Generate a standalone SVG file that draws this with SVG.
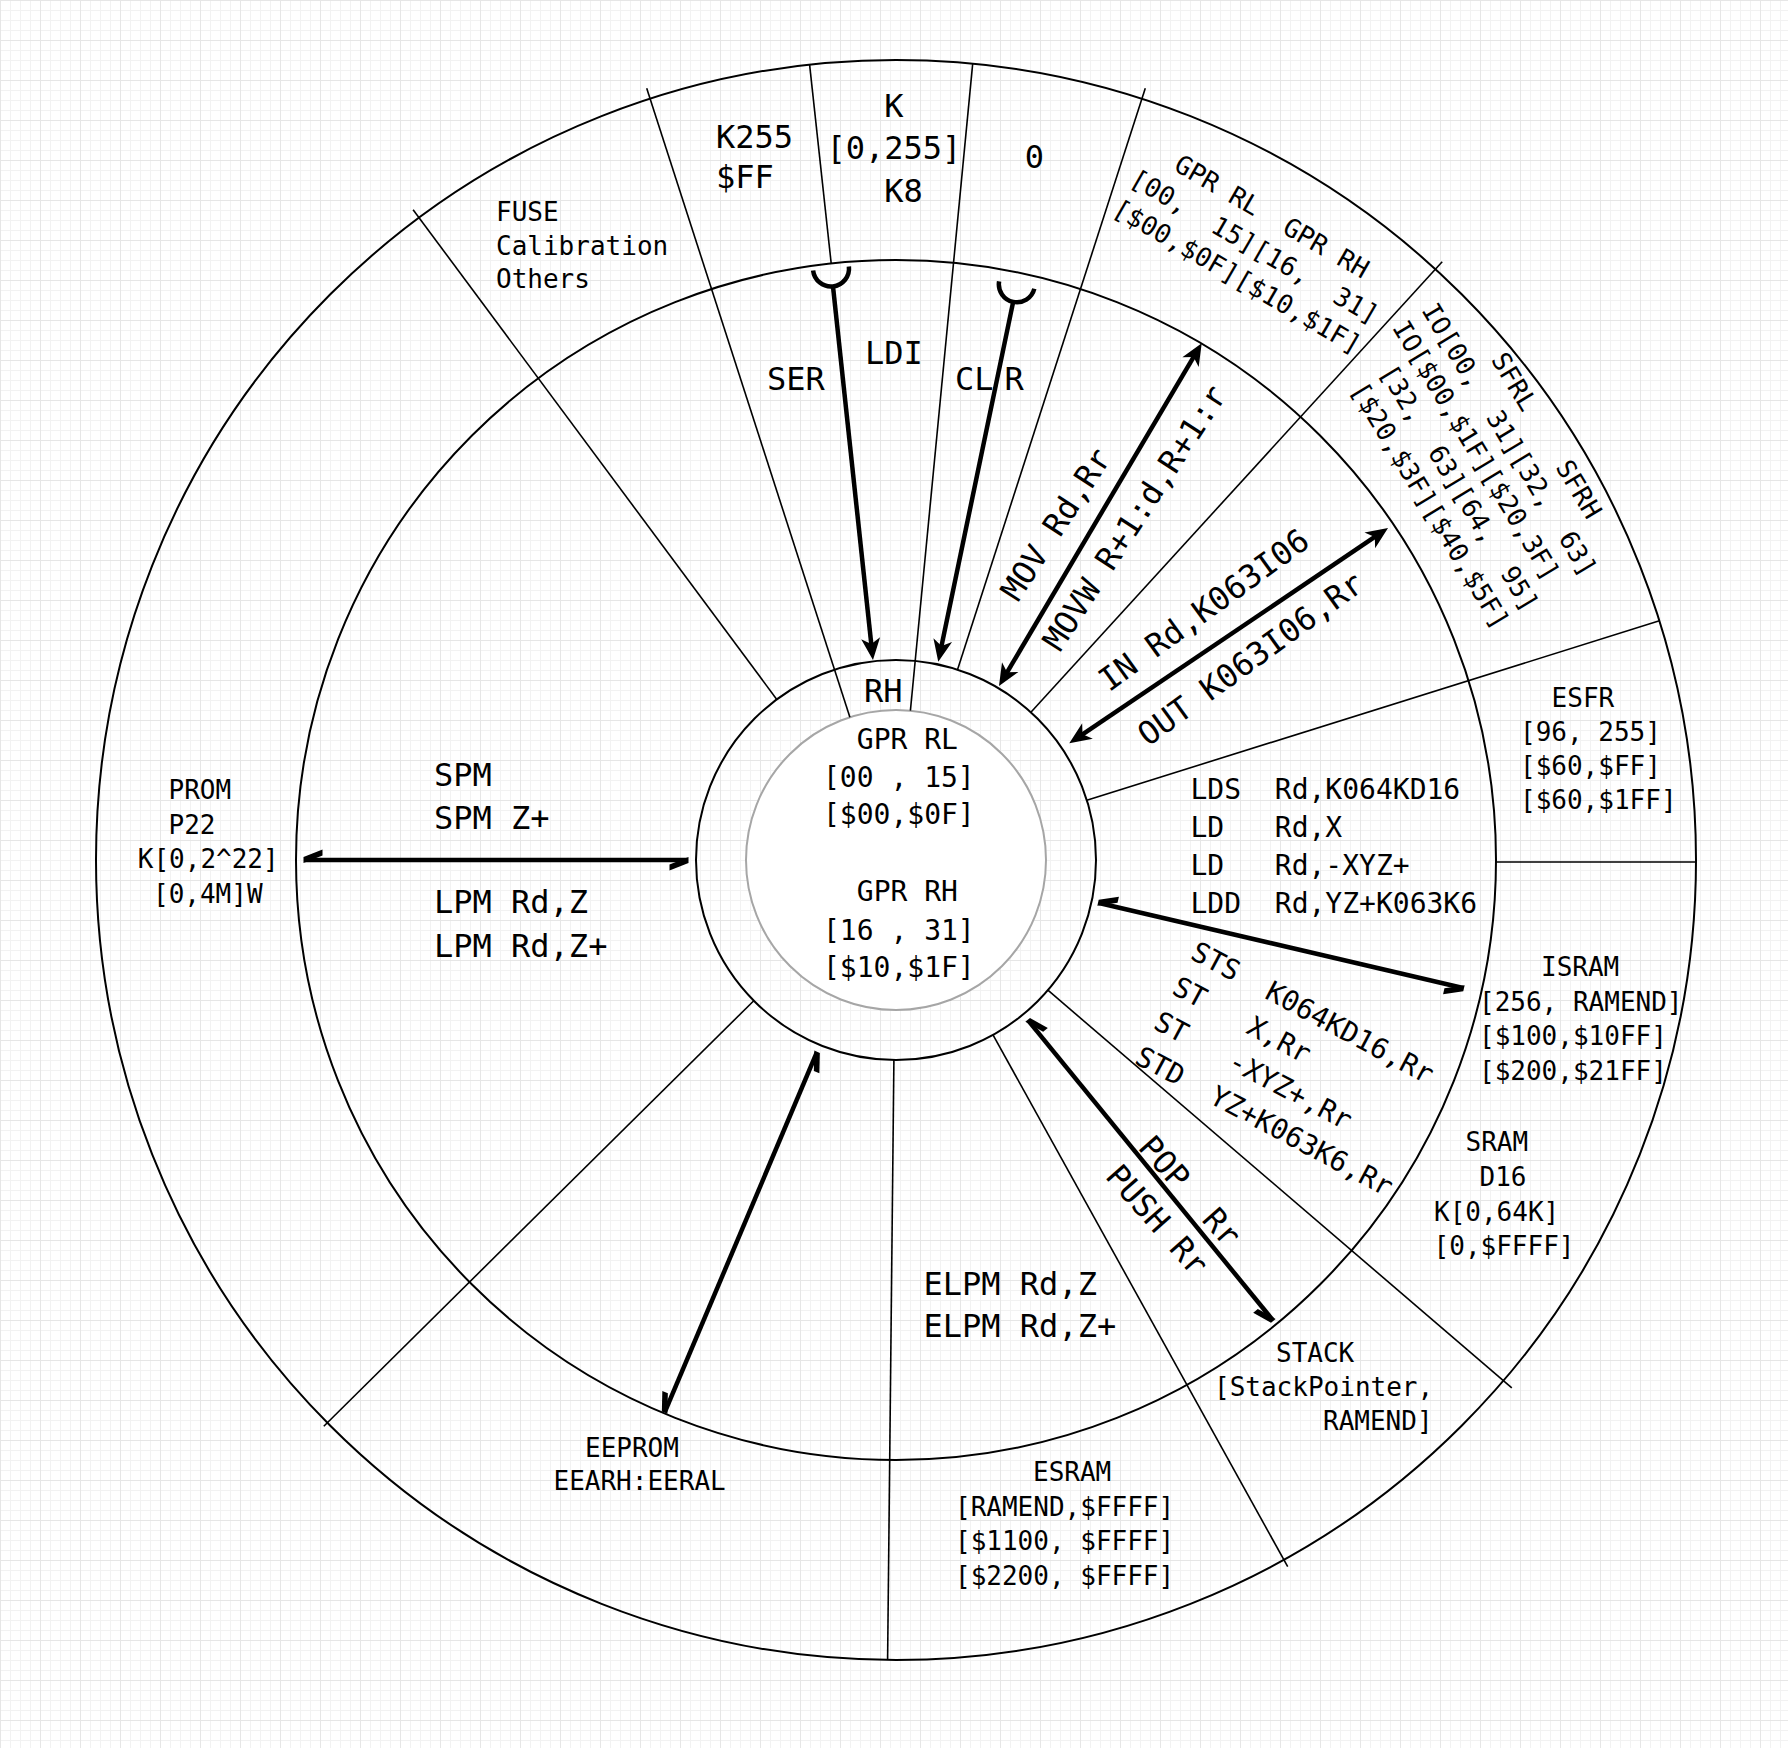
<svg xmlns="http://www.w3.org/2000/svg" width="1788" height="1748" viewBox="0 0 1788 1748">
<defs>
<style>
.c{fill:none;stroke:#000;stroke-width:2}
.s{stroke:#000;stroke-width:1.6}
.t{font-family:"DejaVu Sans Mono",monospace;fill:#000}
.f26{font-size:26px}
.f28{font-size:28px}
.f32{font-size:32px}
.a{fill:none;stroke:#000;stroke-width:4.5}
</style>
<pattern id="grid" width="40" height="40" patternUnits="userSpaceOnUse">
<path d="M10.5 0V40M20.5 0V40M30.5 0V40M0 10.5H40M0 20.5H40M0 30.5H40" stroke="#f2f2f2" stroke-width="1"/>
<path d="M0.5 0V40M0 0.5H40" stroke="#e6e6e6" stroke-width="1"/>
</pattern>
<marker id="cls" markerUnits="userSpaceOnUse" markerWidth="40" markerHeight="40" refX="0" refY="0" orient="auto-start-reverse" style="overflow:visible">
<path d="M12,0 L-10,-9.5 L-4,0 L-10,9.5 Z" fill="#000"/>
</marker>
<marker id="half" markerUnits="userSpaceOnUse" markerWidth="40" markerHeight="40" refX="0" refY="0" orient="auto-start-reverse" style="overflow:visible">
<path d="M1,-3 L-18,4.5 L-18,10.5 L1,3 Z" fill="#000"/>
</marker>
</defs>
<rect width="1788" height="1748" fill="#fff"/>
<rect width="1788" height="1748" fill="url(#grid)"/>

<g id="rings">
<circle class="c" cx="896" cy="860" r="800" fill="#fff"/>
<circle class="c" cx="896" cy="860" r="600"/>
<circle class="c" cx="896" cy="860" r="200" fill="#fff"/>
<circle cx="896" cy="860" r="150" fill="#fff" stroke="#a6a6a6" stroke-width="2"/>
</g>

<g id="spokes">
<line class="s" x1="776.8" y1="699.4" x2="413.1" y2="209.7"/>
<line class="s" x1="849.9" y1="717.3" x2="646.7" y2="88.3"/>
<line class="s" x1="831.2" y1="263.5" x2="809.6" y2="64.6"/>
<line class="s" x1="910.4" y1="710.7" x2="972.7" y2="63.7"/>
<line class="s" x1="957.5" y1="669.7" x2="1145.3" y2="88.3"/>
<line class="s" x1="1030.9" y1="712.3" x2="1442.2" y2="261.8"/>
<line class="s" x1="1086.8" y1="800.2" x2="1659.4" y2="620.8"/>
<line class="s" x1="1496" y1="862" x2="1696" y2="862"/>
<line class="s" x1="1047.9" y1="990.2" x2="1511.8" y2="1387.8"/>
<line class="s" x1="993" y1="1034.9" x2="1287.7" y2="1566.7"/>
<line class="s" x1="893.9" y1="1060" x2="887.6" y2="1660"/>
<line class="s" x1="753.8" y1="1000.7" x2="323.8" y2="1426.2"/>
</g>

<g id="k255"><text class="t f32" x="716" y="148">K255</text><text class="t f32" x="716" y="188">$FF</text></g>
<g id="k8"><text class="t f32" x="884.3" y="117">K</text><text class="t f32" x="826.5" y="159">[0,255]</text><text class="t f32" x="884.3" y="202">K8</text></g>
<g id="zero"><text class="t f32" x="1034.4" y="168" text-anchor="middle">0</text></g>
<g id="fuse"><text class="t f26" x="496" y="221">FUSE</text><text class="t f26" x="496" y="255">Calibration</text><text class="t f26" x="496" y="288">Others</text></g>

<g id="gpr-outer" transform="translate(1128,184) rotate(30)">
<text class="t f26" xml:space="preserve" x="0" y="-34.7">  GPR RL  GPR RH</text>
<text class="t f26" xml:space="preserve" x="0" y="0">[00,  15][16,  31]</text>
<text class="t f26" xml:space="preserve" x="0" y="34.7">[$00,$0F][$10,$1F]</text>
</g>
<g id="io" transform="translate(1421,310) rotate(59)">
<text class="t f26" xml:space="preserve" x="0" y="-34">     SFRL    SFRH</text>
<text class="t f26" xml:space="preserve" x="0" y="0">IO[00,  31][32,  63]</text>
<text class="t f26" xml:space="preserve" x="0" y="34">IO[$00,$1F][$20,3F]</text>
<text class="t f26" xml:space="preserve" x="0" y="68">  [32,  63][64,  95]</text>
<text class="t f26" xml:space="preserve" x="0" y="102">  [$20,$3F][$40,$5F]</text>
</g>
<g id="esfr"><text class="t f26" x="1551.6" y="707">ESFR</text><text class="t f26" x="1520" y="741">[96, 255]</text><text class="t f26" x="1520" y="775">[$60,$FF]</text><text class="t f26" x="1520" y="809">[$60,$1FF]</text></g>
<g id="isram"><text class="t f26" x="1541" y="976">ISRAM</text><text class="t f26" x="1479" y="1010.5">[256, RAMEND]</text><text class="t f26" x="1479" y="1045">[$100,$10FF]</text><text class="t f26" x="1479" y="1079.5">[$200,$21FF]</text></g>
<g id="sram"><text class="t f26" x="1465.5" y="1151">SRAM</text><text class="t f26" x="1479.5" y="1186">D16</text><text class="t f26" x="1434" y="1221">K[0,64K]</text><text class="t f26" x="1433.6" y="1254.5">[0,$FFFF]</text></g>
<g id="stack"><text class="t f26" x="1276" y="1362">STACK</text><text class="t f26" x="1214" y="1396">[StackPointer,</text><text class="t f26" x="1323" y="1430">RAMEND]</text></g>
<g id="esram"><text class="t f26" x="1033" y="1481">ESRAM</text><text class="t f26" x="955" y="1515.5">[RAMEND,$FFFF]</text><text class="t f26" x="955" y="1550">[$1100, $FFFF]</text><text class="t f26" x="955" y="1584.5">[$2200, $FFFF]</text></g>
<g id="eeprom"><text class="t f26" x="585" y="1456.7">EEPROM</text><text class="t f26" x="553.5" y="1490">EEARH:EERAL</text></g>
<g id="prom"><text class="t f26" x="168.5" y="799">PROM</text><text class="t f26" x="168.5" y="833.5">P22</text><text class="t f26" x="137.8" y="868">K[0,2^22]</text><text class="t f26" x="153" y="902.5">[0,4M]W</text></g>

<g id="gpr-center"><text class="t f28" x="856.8" y="749">GPR RL</text><text class="t f28" x="823" y="787">[00 , 15]</text><text class="t f28" x="823" y="824">[$00,$0F]</text><text class="t f28" x="856.8" y="901">GPR RH</text><text class="t f28" x="823" y="940">[16 , 31]</text><text class="t f28" x="823" y="977">[$10,$1F]</text></g>
<g id="rh"><text class="t f32" x="864" y="702">RH</text></g>

<g id="ser"><text class="t f32" x="767" y="390">SER</text></g>
<g id="ldi"><text class="t f32" x="865" y="364">LDI</text></g>
<g id="clr"><text class="t f32" x="955" y="390">CL<tspan dx="11">R</tspan></text></g>
<g id="mov" transform="translate(1018,603) rotate(-57)"><text class="t f32" x="0" y="0">MOV Rd,Rr</text></g>
<g id="movw" transform="translate(1060,653) rotate(-57)"><text class="t f32" x="0" y="0">MOVW R+1:d,R+1:r</text></g>
<g id="in" transform="translate(1109,692.5) rotate(-36)"><text class="t f32" x="0" y="0">IN Rd,K063I06</text></g>
<g id="out" transform="translate(1148,747) rotate(-36)"><text class="t f32" x="0" y="0">OUT K063I06,Rr</text></g>
<g id="lds"><text class="t f28" xml:space="preserve" x="1190.5" y="799">LDS  Rd,K064KD16</text><text class="t f28" xml:space="preserve" x="1190.5" y="837">LD   Rd,X</text><text class="t f28" xml:space="preserve" x="1190.5" y="875">LD   Rd,-XYZ+</text><text class="t f28" xml:space="preserve" x="1190.5" y="913">LDD  Rd,YZ+K063K6</text></g>
<g id="sts" transform="translate(1189,958) rotate(28)"><text class="t f28" xml:space="preserve" x="0" y="0">STS  K064KD16,Rr</text><text class="t f28" xml:space="preserve" x="0" y="39.5">ST   X,Rr</text><text class="t f28" xml:space="preserve" x="0" y="79">ST   -XYZ+,Rr</text><text class="t f28" xml:space="preserve" x="0" y="118.5">STD  YZ+K063K6,Rr</text></g>
<g id="pop" transform="translate(1137,1148) rotate(48.5)"><text class="t f32" xml:space="preserve" x="0" y="0">POP  Rr</text><text class="t f32" xml:space="preserve" x="0" y="43.7">PUSH Rr</text></g>
<g id="elpm"><text class="t f32" x="923.5" y="1295">ELPM Rd,Z</text><text class="t f32" x="923.5" y="1337">ELPM Rd,Z+</text></g>
<g id="spm"><text class="t f32" x="434" y="786">SPM</text><text class="t f32" x="434" y="829">SPM Z+</text><text class="t f32" x="434" y="913">LPM Rd,Z</text><text class="t f32" x="434" y="957">LPM Rd,Z+</text></g>

<g id="connectors">
<path class="a" d="M813.1,270.5 A18,18 0 0 0 848.9,266.5"/>
<path class="a" d="M833,286.4 L871.7,648.1" marker-end="url(#cls)"/>
<path class="a" d="M999.1,281.3 A18,18 0 0 0 1034.3,288.7"/>
<path class="a" d="M1013,302.6 L940.7,649.9" marker-end="url(#cls)"/>
<path class="a" d="M1005.1,675.7 L1195.6,353.6" marker-start="url(#cls)" marker-end="url(#cls)"/>
<path class="a" d="M1079.2,736.6 L1378.1,534.7" marker-start="url(#cls)" marker-end="url(#cls)"/>
<path class="a" d="M304.5,860 L687.5,860" marker-start="url(#half)" marker-end="url(#half)"/>
<path class="a" d="M1099,903 L1463,988" marker-start="url(#half)" marker-end="url(#half)"/>
<path class="a" d="M1028.3,1020.7 L1272.7,1320" marker-start="url(#half)" marker-end="url(#half)"/>
<path class="a" d="M816.7,1052.7 L665,1411.7" marker-start="url(#half)" marker-end="url(#half)"/>
</g>
</svg>
